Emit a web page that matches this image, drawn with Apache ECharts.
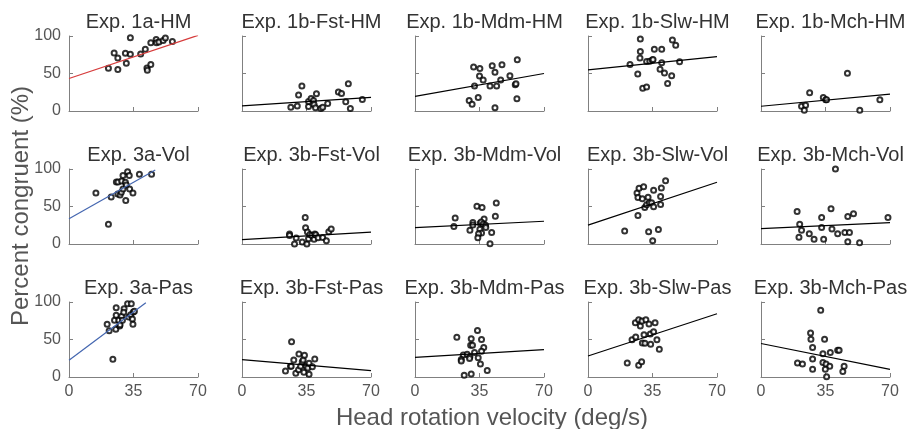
<!DOCTYPE html>
<html>
<head>
<meta charset="utf-8">
<script src="https://cdn.jsdelivr.net/npm/echarts@6/dist/echarts.min.js"></script>
<style>
  html, body { margin: 0; padding: 0; background: #fff; }
  #main { width: 909px; height: 429px; }
</style>
</head>
<body>
<div id="main"></div>
<script>
// panel titles, row by row
var titles = ['Exp. 1a-HM', 'Exp. 1b-Fst-HM', 'Exp. 1b-Mdm-HM', 'Exp. 1b-Slw-HM', 'Exp. 1b-Mch-HM',
              'Exp. 3a-Vol', 'Exp. 3b-Fst-Vol', 'Exp. 3b-Mdm-Vol', 'Exp. 3b-Slw-Vol', 'Exp. 3b-Mch-Vol',
              'Exp. 3a-Pas', 'Exp. 3b-Fst-Pas', 'Exp. 3b-Mdm-Pas', 'Exp. 3b-Slw-Pas', 'Exp. 3b-Mch-Pas'];

var xTicks = [0, 35, 70];
var yTicks = [0, 50, 100];

// [velocity, % congruent]
var hm1a = [[21.4,57],[24.5,77.4],[26.5,70.6],[26.5,55.2],[30.6,76.9],[31.1,63.8],[33.3,97.7],[33.3,75.6],[38.9,76],[41.4,82.4],
            [42.3,57.5],[42.5,54.3],[44.4,62],[44.4,91],[47.3,95.5],[47.5,91],[48.8,91.9],[51.1,94],[52.3,97.3],[56.1,92.8]];
var fstHM = [[26.5,5],[30,6.8],[30.7,21.3],[32.5,33.5],[36.1,5.9],[36.1,12.7],[37.5,16.7],[38.8,14],[39.1,8.6],[39.9,4.5],
             [40.4,23],[42.8,3.2],[43.8,5],[46.5,10],[52.3,25.3],[54,23.5],[56.3,12.2],[57.7,36.2],[58.8,3.2],[65.3,15.4]];
var mdmHM = [[31.8,58.6],[35.2,56.8],[35,46.8],[37,41.4],[32.3,33.3],[29.4,14],[31,9],[34.3,18],[41.9,60.4],[43.4,51.8],
             [47.2,61.7],[46.5,41.5],[40.7,33.4],[44.3,33.4],[51.5,46.9],[55.5,68.5],[54.4,35.1],[54.8,36.5],[55.3,16.2],[43.4,4.5]];
var slwHM = [[28.4,95.9],[28.4,79.2],[28.2,70.6],[22.8,62],[27,49.3],[29.7,30.3],[31.8,32.1],[31.8,66],[33.5,66.5],[34.9,67.9],
             [35.3,68.8],[36,82.4],[40,82.4],[40,64.3],[39.1,55.7],[41.5,50.7],[45.4,47.1],[43.2,36.7],[45.8,94.6],[47.6,87.8],[49.7,65.6]];
var mchHM = [[22,6.3],[24.2,7.7],[23.5,0.9],[26.4,24.3],[33.8,18],[35.1,14.9],[35.6,14.9],[46.9,50.5],[53.6,0.9],[64.5,14.9]];

var vol3a = [[14.6,68.1],[21.4,26.5],[22.9,62.8],[25.7,82.7],[26.6,82.7],[26.5,66.8],[27.7,65.5],[28.4,69],[28.6,84.1],[29.3,91.2],
             [29.3,73.5],[30.6,82.3],[31.1,78.8],[30.8,58],[31.8,96.5],[32.7,91.2],[32.9,73.5],[34.7,68.1],[38.2,92.9],[44.8,92.9]];
var fstVol = [[25.8,13.3],[25.8,11.5],[28.5,0],[29.4,8],[32.7,2.7],[34.3,35.4],[34.5,21.7],[35.2,0],[35.5,15.9],[36.1,7.1],
              [36.8,12.8],[37.9,11.5],[39.1,6.2],[39.5,13.3],[40,12.4],[41.3,8.4],[43.8,8.8],[45.8,4.4],[47.1,16.4],[48.4,19.9]];
var mdmVol = [[21.8,34.8],[21.1,23.2],[33.6,50.4],[36.4,48.7],[31.4,28.6],[31.4,25.4],[29.8,18.3],[35.4,27.7],[37.5,33.5],[35.9,29.5],
              [37,26.8],[38.3,25],[38.4,21.9],[35.2,19.6],[36.1,14.7],[34.5,13.8],[34.1,8.5],[44.1,54.7],[43.6,36.9],[41.6,15.2],[40.7,0.5]];
var slwVol = [[19.9,17.3],[27.1,38.1],[26.6,68.1],[27.7,74.3],[30.2,76.5],[27.1,61.9],[29.5,60.2],[32.6,62.4],[30.8,48.7],[31.8,52.2],
              [33.3,54.9],[34.5,54.9],[35.6,49.6],[35.6,71.7],[32.9,16.4],[35.1,4.4],[38.2,19.5],[39.4,63.3],[39.4,52.7],[39.8,74.8],[42.1,84.5]];
var mchVol = [[19.6,43.3],[21,26.3],[22,18.3],[20.6,8.9],[26.2,13.8],[28.8,6.3],[32.9,35.3],[32.9,21.9],[34,6.3],[38,46.9],
              [38.5,20.1],[40.4,100],[41.6,13.8],[45.5,15.2],[48,15.2],[47.1,36.6],[50.2,40.2],[47.1,3.1],[53.5,1.8],[68.9,35.3]];

var pas3a = [[20.7,70.2],[21.8,61.8],[23.8,23.6],[24.7,75.6],[25.6,92.4],[25.6,82.2],[25.4,63.6],[27,75.6],[27.5,68],[27.7,69.8],
             [28.6,80.9],[29,75.6],[29.9,91.1],[29.7,86.2],[31.8,97.8],[32.4,80],[33.5,83.1],[33.8,97.8],[34.4,77.3],[34.9,86.7],[35.5,87.6],[34.7,70.2]];
var fstPas = [[23.6,8],[26.3,14.2],[26.7,14.2],[26.9,47.1],[28.1,22.7],[29.2,4.9],[30.7,9.8],[30.9,30.7],[31.8,14.2],[32.7,20.4],
              [33.2,22.7],[33.6,6.2],[33.9,28.9],[34.8,14.2],[35.7,12],[36.4,18.2],[36.4,3.6],[38.2,13.8],[39.5,24]];
var mdmPas = [[22.7,53.1],[26.2,29.2],[25.1,23.5],[25.1,21.2],[28.3,30.5],[29.8,27],[30.2,42.5],[30.5,50.9],[31.2,42.5],[32.3,32.7],
              [29.6,24.8],[33.9,61.9],[34.3,25.7],[35.5,17.3],[36.1,50],[37.3,39.4],[36.1,34.5],[26.7,2.2],[30.5,4],[39.2,8.8]];
var slwPas = [[21.3,18.7],[27.5,15.6],[29.1,20.4],[23.9,49.8],[25.9,53.3],[25.7,72.4],[27.5,76.4],[28.4,68],[29.3,74.7],[31.4,76.4],
              [33.1,70.7],[36.4,72.4],[30.4,56.4],[29.5,45.3],[30.9,44.9],[33.8,57.3],[34,43.6],[35.6,60.4],[37.4,49.8],[38.7,36.9]];
var mchPas = [[32.4,88.9],[26.9,58.8],[27.1,50.4],[34.5,50.4],[28,39.4],[19.8,18.6],[22.5,17.3],[28,23.9],[28,10.2],[33.6,31],
              [33.6,19.5],[35.3,17.3],[37.3,14.2],[34.9,10.2],[37.6,32.7],[41.6,35.8],[42.4,35.8],[45.1,14.2],[44.4,7.5],[35.6,0.4]];

var scatters = [hm1a, fstHM, mdmHM, slwHM, mchHM,
                vol3a, fstVol, mdmVol, slwVol, mchVol,
                pas3a, fstPas, mdmPas, slwPas, mchPas];

// regression line end points
var fits = [[[0,43.4],[70,100.9]], [[0,6.8],[70,18.1]], [[0,19.4],[70,50]], [[0,54.8],[70,72.4]], [[0,6.3],[70,22.5]],
            [[0,33.6],[46.8,98.7]], [[0,5.8],[70,15.9]], [[0,21.9],[70,30.3]], [[0,25.2],[70,82.3]], [[0,20.5],[70,28.6]],
            [[0,22.2],[41.7,99.1]], [[0,23.1],[70,8.4]], [[0,26.1],[70,36.5]], [[0,28],[70,84.4]], [[0,44.7],[70,10.2]]];
var fitColors = ['#d63b3b', '#000', '#000', '#000', '#000',
                 '#4466b0', '#000', '#000', '#000', '#000',
                 '#4466b0', '#000', '#000', '#000', '#000'];

var myChart = echarts.init(document.getElementById('main'));

var font = "'Liberation Sans', Arial, sans-serif";
var gridLefts = [69, 242, 415, 588, 761];
var gridTops = [36, 169, 302];

var grids = [], xAxes = [], yAxes = [], series = [], textTitles = [];
for (var i = 0; i < 15; i++) {
    var r = Math.floor(i / 5), c = i % 5;
    grids.push({left: gridLefts[c], top: gridTops[r], width: 129, height: 75});
    textTitles.push({
        text: titles[i],
        left: gridLefts[c] + 64.5,
        top: gridTops[r] - 29,
        textAlign: 'center',
        textStyle: {fontFamily: font, fontSize: 20, fontWeight: 'normal', color: '#333'}
    });
    xAxes.push({
        gridIndex: i, type: 'value', min: 0, max: 70, interval: 35,
        axisLine: {lineStyle: {color: '#808080', width: 1}},
        axisTick: {inside: true, length: 4, lineStyle: {color: '#808080'}},
        splitLine: {show: false},
        axisLabel: {show: r === 2, color: '#555', fontSize: 16, fontFamily: font, margin: 7,
                    formatter: function (v) { return xTicks.indexOf(v) >= 0 ? v : ''; }}
    });
    yAxes.push({
        gridIndex: i, type: 'value', min: 0, max: 100, interval: 50,
        axisLine: {show: true, lineStyle: {color: '#808080', width: 1}},
        axisTick: {show: true, inside: true, length: 4, lineStyle: {color: '#808080'}},
        splitLine: {show: false},
        axisLabel: {show: c === 0, color: '#555', fontSize: 16, fontFamily: font, margin: 8,
                    formatter: function (v) { return yTicks.indexOf(v) >= 0 ? v : ''; }}
    });
    series.push({
        type: 'scatter', xAxisIndex: i, yAxisIndex: i,
        symbol: 'emptyCircle', symbolSize: 5,
        itemStyle: {color: '#000', borderColor: '#000', borderWidth: 0.8},
        data: scatters[i]
    });
    series.push({
        type: 'line', xAxisIndex: i, yAxisIndex: i,
        showSymbol: false, clip: true, silent: true,
        lineStyle: {color: fitColors[i], width: 1.2},
        data: fits[i]
    });
}

textTitles.push({
    text: 'Head rotation velocity (deg/s)',
    left: 487, top: 401, textAlign: 'center',
    textStyle: {fontFamily: font, fontSize: 24, fontWeight: 'normal', color: '#555'}
});

option = {
    backgroundColor: '#ffffff',
    animation: false,
    title: textTitles,
    grid: grids,
    xAxis: xAxes,
    yAxis: yAxes,
    series: series,
    graphic: [{
        type: 'text',
        x: 9, y: 326,
        rotation: Math.PI / 2,
        style: {text: 'Percent congruent (%)', font: "24px 'Liberation Sans', Arial, sans-serif",
                fill: '#555', textAlign: 'left', textVerticalAlign: 'top'}
    }]
};

myChart.setOption(option);
</script>
</body>
</html>
